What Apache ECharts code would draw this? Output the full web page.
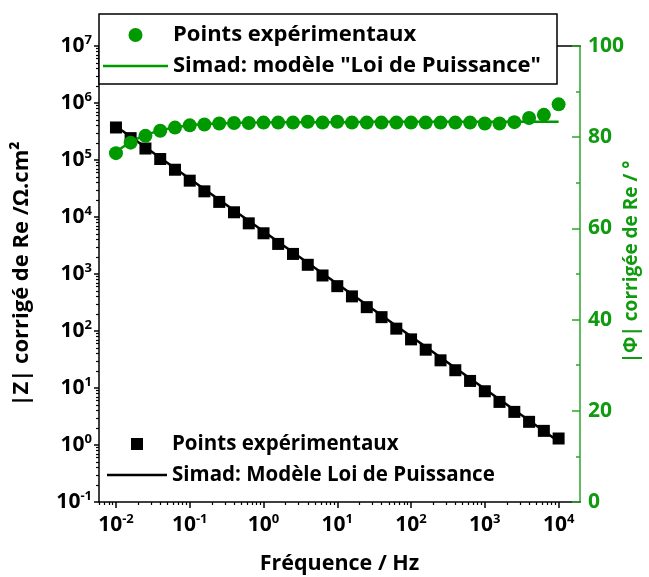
<!DOCTYPE html>
<html><head><meta charset="utf-8">
<script src="https://cdn.jsdelivr.net/npm/echarts@6/dist/echarts.min.js"></script>
<style>html,body{margin:0;padding:0;background:#fff}#c{width:649px;height:577px}</style>
</head><body><div id="c"></div>
<script>
// ---- data ----
const freq = [0.01, 0.0158, 0.0251, 0.0398, 0.0631, 0.1, 0.158, 0.251, 0.398, 0.631,
  1, 1.58, 2.51, 3.98, 6.31, 10, 15.8, 25.1, 39.8, 63.1,
  100, 158, 251, 398, 631, 1000, 1580, 2510, 3980, 6310, 10000];
const zExp = [3.72e5, 2.42e5, 1.59e5, 1.04e5, 6.75e4, 4.34e4, 2.82e4, 1.84e4, 1.21e4, 7740,
  5180, 3370, 2250, 1450, 942, 612, 405, 262, 175, 110,
  71.3, 47.0, 30.6, 20.5, 13.3, 8.77, 5.70, 3.81, 2.55, 1.77, 1.30];
const zFitFreq = [0.01, 10000];
const zFit = [3.9e5, 1.15];
const phiExp = [76.5, 78.8, 80.3, 81.4, 82.1, 82.6, 82.8, 83.0, 83.1, 83.1,
  83.2, 83.2, 83.2, 83.4, 83.2, 83.4, 83.2, 83.2, 83.2, 83.2,
  83.2, 83.2, 83.2, 83.2, 83.2, 83.0, 83.0, 83.3, 84.2, 84.9, 87.2];
const phiFit = [76.8, 79.0, 80.5, 81.5, 82.2, 82.6, 82.9, 83.0, 83.1, 83.2,
  83.2, 83.3, 83.3, 83.3, 83.3, 83.3, 83.3, 83.4, 83.4, 83.4,
  83.4, 83.4, 83.4, 83.4, 83.4, 83.4, 83.4, 83.4, 83.4, 83.4, 83.4];
const xTickExps = [-2, -1, 0, 1, 2, 3, 4];
const yTickExps = [-1, 0, 1, 2, 3, 4, 5, 6, 7];
const minorMult = [2, 3, 4, 5, 6, 7, 8, 9];
const labelPts = 'Points expérimentaux';
const labelPhiFit = 'Simad: modèle "Loi de Puissance"';
const labelZFit = 'Simad: Modèle Loi de Puissance';

// ---- helpers ----
const L = v => Math.log10(v);
const FONT = '"Open Sans", Lato, sans-serif';
const GREEN = '#0f9a0f';
const GREEN_AXIS = '#2ea52e';
const X_MIN = -2.23, X_MAX = 4.29;
function minorTicks(lo, hi) {
  const out = [];
  for (let n = Math.floor(lo) - 1; n <= Math.ceil(hi); n++) {
    minorMult.forEach(m => { const v = n + Math.log10(m); if (v >= lo && v <= hi) out.push(v); });
  }
  return out;
}
const powRich = {
  b: {fontSize: 21, fontWeight: 'bold', fontFamily: FONT, color: '#000', lineHeight: 24},
  s: {fontSize: 13, fontWeight: 'bold', fontFamily: FONT, color: '#000', verticalAlign: 'top', lineHeight: 14}
};
const powFmt = v => '{b|10}{s|' + Math.round(v) + '}';
const zName = labelPts + ' (|Z|)';

const chart = echarts.init(document.getElementById('c'));
chart.setOption({
  animation: false,
  backgroundColor: '#fff',
  grid: {left: 99, right: 69, top: 46, bottom: 75, containLabel: false, outerBoundsMode: 'none'},
  xAxis: [
    {type: 'value', min: X_MIN, max: X_MAX, position: 'bottom',
     axisLine: {show: true, onZero: false, lineStyle: {color: '#000', width: 1.5}},
     axisTick: {show: true, customValues: xTickExps, length: 6, lineStyle: {color: '#000', width: 1.5}},
     axisLabel: {customValues: xTickExps, formatter: powFmt, rich: powRich, margin: 11},
     splitLine: {show: false},
     name: 'Fréquence / Hz', nameLocation: 'middle', nameGap: 51,
     nameTextStyle: {fontFamily: FONT, fontWeight: 'bold', fontSize: 21.5, color: '#000'}},
    {type: 'value', min: X_MIN, max: X_MAX, position: 'bottom',
     axisLine: {show: false, onZero: false},
     axisTick: {show: true, customValues: minorTicks(X_MIN, X_MAX), length: 3, lineStyle: {color: '#000', width: 1.2}},
     axisLabel: {show: false}, splitLine: {show: false}},
    {type: 'value', min: X_MIN, max: X_MAX, position: 'top',
     axisLine: {show: true, onZero: false, lineStyle: {color: '#000', width: 1.5}},
     axisTick: {show: false}, axisLabel: {show: false}, splitLine: {show: false}}
  ],
  yAxis: [
    {type: 'value', min: -1, max: 7, interval: 1, position: 'left',
     axisLine: {show: true, onZero: false, lineStyle: {color: '#000', width: 1.5}},
     axisTick: {show: true, length: 5, lineStyle: {color: '#000', width: 1.5}},
     axisLabel: {formatter: powFmt, rich: powRich, margin: 7, interval: 0},
     splitLine: {show: false},
     name: '|Z| corrigé de Re /Ω.cm²', nameLocation: 'middle', nameGap: 66, nameRotate: 90,
     nameTextStyle: {fontFamily: FONT, fontWeight: 'bold', fontSize: 22, color: '#000'}},
    {type: 'value', min: -1, max: 7, position: 'left',
     axisLine: {show: false, onZero: false},
     axisTick: {show: true, customValues: minorTicks(-1, 7), length: 3, lineStyle: {color: '#000', width: 1.2}},
     axisLabel: {show: false}, splitLine: {show: false}},
    {type: 'value', min: 0, max: 100, interval: 20, position: 'right',
     axisLine: {show: true, onZero: false, lineStyle: {color: GREEN_AXIS, width: 1.5}},
     axisTick: {show: true, inside: true, length: 8, lineStyle: {color: GREEN_AXIS, width: 1.5}},
     minorTick: {show: true, splitNumber: 2, length: 4, lineStyle: {color: GREEN_AXIS, width: 1.5}},
     axisLabel: {color: GREEN, fontFamily: FONT, fontWeight: 'bold', fontSize: 21, margin: 8},
     splitLine: {show: false},
     name: '|Φ| corrigée de Re / °', nameLocation: 'middle', nameGap: 42, nameRotate: 90,
     nameMoveOverlap: false,
     nameTextStyle: {fontFamily: FONT, fontWeight: 'bold', fontSize: 19, color: GREEN, padding: [0, 0, 0, 24]}}
  ],
  legend: [
    {left: 99, top: 14, orient: 'vertical', selectedMode: false,
     backgroundColor: '#fff', borderColor: '#000', borderWidth: 1.5,
     padding: [9, 16, 6, 4], itemGap: 7, itemWidth: 65, itemHeight: 14,
     textStyle: {fontFamily: FONT, fontWeight: 'bold', fontSize: 22, color: '#000', lineHeight: 24},
     data: [{name: labelPts, icon: 'circle'},
            {name: labelPhiFit, icon: 'path://M0,0L65,0L65,2.5L0,2.5Z'}]},
    {left: 107, top: 433, orient: 'vertical', selectedMode: false,
     padding: 0, itemGap: 9, itemWidth: 60, itemHeight: 12,
     formatter: n => n === zName ? labelPts : n,
     textStyle: {fontFamily: FONT, fontWeight: 'bold', fontSize: 20.5, color: '#000', lineHeight: 22},
     data: [{name: zName, icon: 'path://M0,0L10,0L10,10L0,10Z'},
            {name: labelZFit, icon: 'path://M0,0L60,0L60,2.5L0,2.5Z'}]}
  ],
  series: [
    {name: labelZFit, type: 'line', xAxisIndex: 0, yAxisIndex: 0, symbol: 'none',
     lineStyle: {color: '#000', width: 2.5}, itemStyle: {color: '#000'}, z: 2,
     data: zFitFreq.map((f, i) => [L(f), L(zFit[i])])},
    {name: zName, type: 'scatter', xAxisIndex: 0, yAxisIndex: 0, symbol: 'rect', symbolSize: 12,
     itemStyle: {color: '#000', opacity: 1}, z: 3,
     data: freq.map((f, i) => [L(f), L(zExp[i])])},
    {name: labelPhiFit, type: 'line', xAxisIndex: 0, yAxisIndex: 2, symbol: 'none',
     lineStyle: {color: '#009900', width: 2.5}, itemStyle: {color: '#009900'}, z: 2,
     data: freq.map((f, i) => [L(f), phiFit[i]])},
    {name: labelPts, type: 'scatter', xAxisIndex: 0, yAxisIndex: 2, symbol: 'circle', symbolSize: 14,
     itemStyle: {color: '#009900', opacity: 1}, z: 3,
     data: freq.map((f, i) => [L(f), phiExp[i]])}
  ]
});
</script></body></html>
